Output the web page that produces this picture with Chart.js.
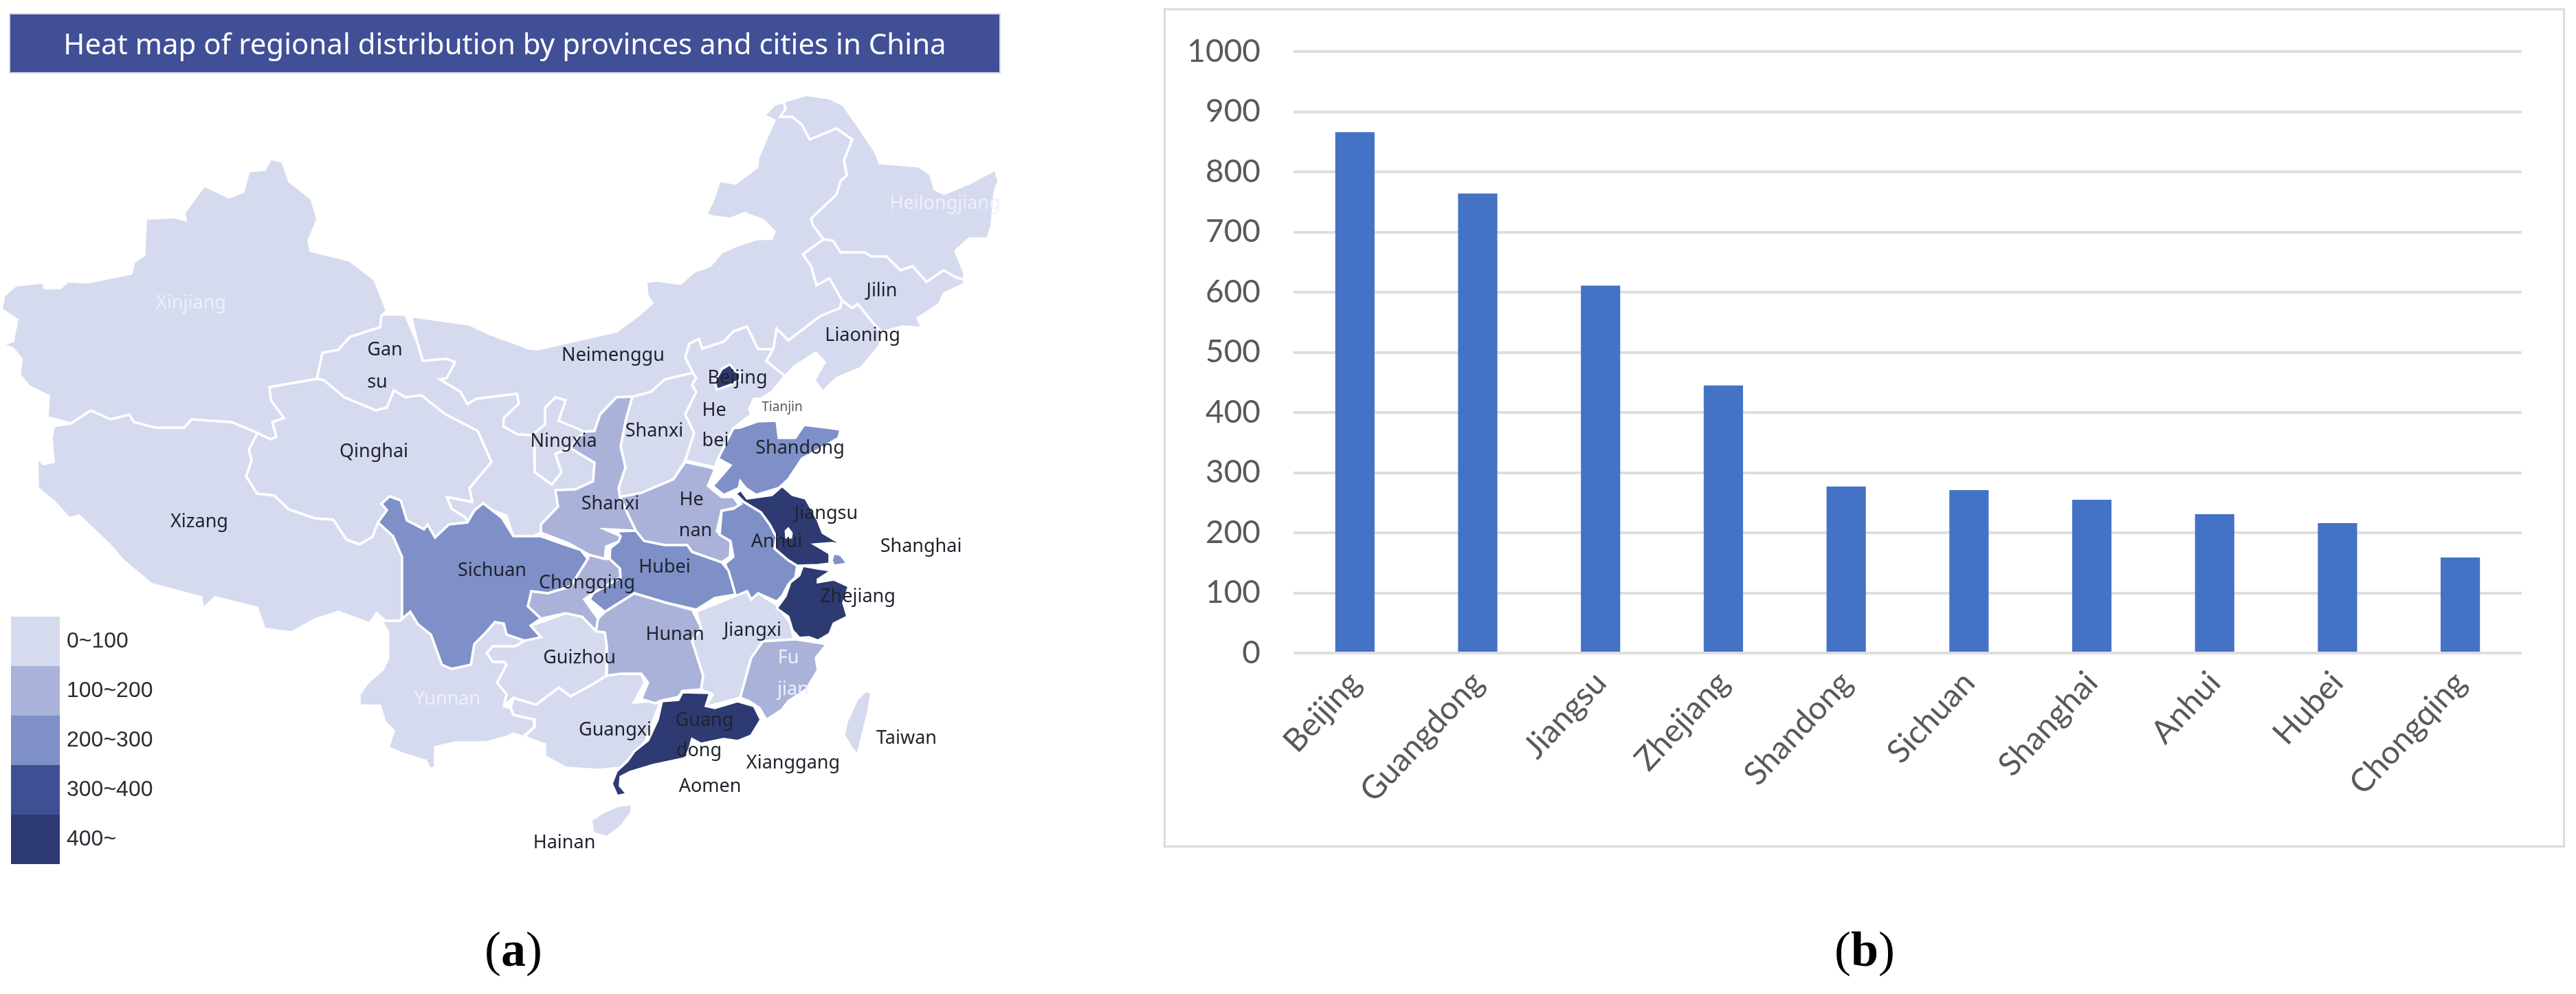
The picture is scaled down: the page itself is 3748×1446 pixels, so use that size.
<!DOCTYPE html>
<html>
<head>
<meta charset="utf-8">
<title>Regional distribution</title>
<script src="https://cdn.jsdelivr.net/npm/chart.js@4/dist/chart.umd.min.js"></script>
<style>
    html, body { margin: 0; background: #fff; }
    #page { position: relative; width: 3748px; height: 1446px; overflow: hidden; }
    #page canvas { filter: blur(0.7px); }
    #mapChart { position: absolute; left: 0; top: 0; }
    #mapTitle {
        position: absolute; left: 15px; top: 21px; width: 1439px; height: 84px;
        text-align: center; background: #404f96; color: #fff;
        box-shadow: 0 0 0 2px #d5daee;
        font: 42px/84px "Noto Sans", sans-serif; filter: blur(0.6px);
    }
    #barFrame {
        position: absolute; left: 1693px; top: 12px; width: 2033px; height: 1215px;
        border: 3px solid #dcdcdc;
    }
    .caption {
        position: absolute; top: 1340px; font: 72px "Liberation Serif", serif;
        color: #000; transform: translateX(-50%);
    }
    .caption b { font-weight: bold; }
</style>
</head>
<body>
<div id="page">
    <canvas id="mapChart" width="1480" height="1446"></canvas>
    <div id="mapTitle">Heat map of regional distribution by provinces and cities in China</div>
    <div id="barFrame"><canvas id="barChart" width="2033" height="1215"></canvas></div>
    <div class="caption" style="left:747px">(<b>a</b>)</div>
    <div class="caption" style="left:2713px">(<b>b</b>)</div>
</div>
<script>
// panel (b) values
const barCities = ['Beijing', 'Guangdong', 'Jiangsu', 'Zhejiang', 'Shandong', 'Sichuan', 'Shanghai', 'Anhui', 'Hubei', 'Chongqing'];
const barValues = [866, 764, 611, 445, 277, 271, 255, 231, 216, 159];

// panel (a) legend
const legendLabels = ['0~100', '100~200', '200~300', '300~400', '400~'];
const legendColors = ['#d5daee', '#aab2da', '#7f90c8', '#3f4f94', '#2e3a72'];

// panel (a) outlines in map units
const xinjiang = [[394,231],[411,235],[421,264],[453,289],[462,319],[449,350],[452,365],[509,379],[545,407],[563,452],[555,459],[553,476],[509,490],[492,509],[469,513],[461,551],[392,563],[394,582],[413,608],[396,614],[402,635],[394,639],[373,629],[337,614],[279,610],[268,622],[226,622],[195,614],[188,603],[161,610],[132,597],[103,616],[69,607],[71,576],[42,562],[29,545],[31,522],[19,507],[4,501],[19,496],[25,465],[2,450],[6,430],[23,415],[63,411],[65,419],[88,419],[99,409],[126,411],[191,398],[195,381],[210,371],[212,318],[253,316],[270,320],[268,310],[297,270],[333,287],[354,279],[362,249],[385,247]];
const xizang = [[103,616],[132,597],[161,610],[188,603],[195,614],[226,622],[268,622],[279,610],[337,614],[373,629],[374,631],[362,654],[366,670],[358,693],[374,718],[399,721],[420,741],[458,754],[485,756],[504,785],[523,792],[542,781],[550,760],[572,780],[585,810],[585,900],[582,903],[561,903],[548,892],[538,907],[492,890],[458,901],[424,920],[385,915],[374,884],[313,869],[295,886],[293,869],[221,850],[179,815],[159,792],[115,750],[101,754],[78,729],[55,710],[54,666],[63,675],[78,672],[75,637],[78,620]];
const qinghai = [[392,563],[461,551],[471,553],[501,578],[547,597],[563,593],[573,568],[590,578],[613,575],[647,602],[695,627],[715,672],[683,710],[687,730],[650,723],[657,740],[677,753],[680,760],[653,763],[633,782],[622,763],[617,770],[592,757],[583,728],[567,722],[555,733],[563,742],[550,760],[542,781],[523,792],[504,785],[485,756],[458,754],[420,741],[399,721],[374,718],[358,693],[366,670],[362,654],[374,631],[373,629],[394,639],[402,635],[396,614],[413,608],[394,582]];
const gansu = [[562,457],[590,458],[607,498],[615,525],[650,522],[662,527],[650,550],[640,552],[670,570],[680,588],[693,580],[752,573],[755,587],[733,608],[732,620],[753,632],[774,633],[777,650],[778,687],[803,705],[817,687],[808,660],[830,652],[865,673],[863,700],[837,712],[808,713],[812,737],[787,763],[787,775],[770,782],[747,782],[737,750],[710,740],[703,732],[690,743],[680,760],[677,753],[657,740],[650,723],[687,730],[683,710],[715,672],[695,627],[647,602],[613,575],[590,578],[573,568],[563,593],[547,597],[501,578],[471,553],[461,551],[469,513],[492,509],[509,490],[553,476],[555,459]];
const neimenggu = [[598,460],[683,472],[710,485],[770,507],[783,508],[897,482],[930,458],[949,441],[942,430],[940,410],[955,408],[990,413],[1010,395],[1033,387],[1050,367],[1073,357],[1100,348],[1123,347],[1127,337],[1110,320],[1083,310],[1063,318],[1037,315],[1027,312],[1037,293],[1047,263],[1070,267],[1102,243],[1103,230],[1117,197],[1127,175],[1112,168],[1127,152],[1140,148],[1143,158],[1135,170],[1153,170],[1167,182],[1178,203],[1217,187],[1240,203],[1228,233],[1232,255],[1223,263],[1217,283],[1180,318],[1183,328],[1198,348],[1168,370],[1180,387],[1188,415],[1207,405],[1225,437],[1222,448],[1193,460],[1147,495],[1130,478],[1125,508],[1103,508],[1087,475],[1067,482],[1053,497],[1022,507],[1017,493],[1003,500],[997,520],[1008,542],[967,552],[947,570],[920,577],[897,578],[873,603],[865,627],[850,628],[837,622],[813,612],[823,582],[808,578],[793,593],[793,617],[774,633],[753,632],[732,620],[733,608],[755,587],[752,573],[693,580],[680,588],[670,570],[640,552],[650,550],[662,527],[650,522],[615,525],[607,498]];
const ningxia = [[808,578],[823,582],[813,612],[837,622],[850,628],[830,652],[808,660],[817,687],[803,705],[778,687],[777,650],[774,633],[793,617],[793,593]];
const heilongjiang = [[1140,148],[1173,138],[1207,143],[1227,153],[1253,190],[1273,220],[1280,237],[1337,242],[1353,253],[1360,275],[1373,282],[1410,267],[1448,247],[1453,263],[1447,280],[1443,327],[1437,347],[1410,347],[1390,365],[1403,397],[1403,407],[1390,403],[1373,393],[1348,410],[1328,387],[1310,393],[1290,373],[1268,373],[1258,367],[1223,367],[1212,350],[1198,348],[1183,328],[1180,318],[1217,283],[1223,263],[1232,255],[1228,233],[1240,203],[1217,187],[1178,203],[1167,182],[1153,170],[1135,170],[1143,158]];
const jilin = [[1168,370],[1198,348],[1212,350],[1223,367],[1258,367],[1268,373],[1290,373],[1310,393],[1328,387],[1348,410],[1373,393],[1390,403],[1403,407],[1403,413],[1373,427],[1367,442],[1335,463],[1342,477],[1313,475],[1283,483],[1273,473],[1248,442],[1240,448],[1225,437],[1207,405],[1188,415],[1180,387]];
const liaoning = [[1225,437],[1240,448],[1248,442],[1273,473],[1283,483],[1280,503],[1253,535],[1217,550],[1197,570],[1185,553],[1200,527],[1187,513],[1157,532],[1142,547],[1115,525],[1125,508],[1130,478],[1147,495],[1193,460],[1222,448]];
const hebei = [[1008,542],[997,520],[1003,500],[1017,493],[1022,507],[1053,497],[1067,482],[1087,475],[1103,508],[1125,508],[1115,525],[1142,547],[1123,570],[1107,580],[1097,580],[1090,595],[1093,603],[1067,623],[1045,667],[1040,680],[997,670],[1010,630],[997,603],[1013,570],[1007,560],[1013,550]];
const tianjin = [[1072,567],[1087,570],[1097,580],[1090,595],[1073,590]];
const beijing = [[1062,530],[1070,540],[1077,543],[1077,552],[1063,560],[1043,567],[1040,555],[1050,537]];
const shanxi = [[920,577],[947,570],[967,552],[1008,542],[1013,550],[1007,560],[1013,570],[997,603],[1010,630],[997,670],[980,697],[933,717],[902,723],[900,710],[910,680],[903,650],[910,613]];
const shaanxi = [[920,577],[897,578],[873,603],[865,627],[850,628],[830,652],[865,673],[863,700],[837,712],[808,713],[812,737],[787,763],[787,775],[827,790],[857,807],[880,813],[882,795],[900,788],[903,780],[880,770],[925,772],[913,747],[902,723],[900,710],[910,680],[903,650],[910,613]];
const shandong = [[1045,667],[1067,623],[1077,622],[1102,613],[1130,612],[1133,637],[1157,637],[1170,618],[1210,623],[1223,625],[1220,637],[1193,653],[1167,667],[1147,697],[1133,710],[1100,720],[1085,710],[1077,700],[1075,710],[1053,720],[1037,707],[1063,677]];
const henan = [[997,672],[1033,680],[1040,683],[1030,707],[1050,723],[1067,723],[1077,737],[1050,743],[1043,773],[1063,788],[1062,810],[1050,818],[1007,803],[1000,793],[967,793],[937,787],[925,772],[913,747],[902,723],[933,717],[980,697]];
const hubei = [[897,773],[925,772],[937,787],[967,793],[1000,793],[1007,803],[1050,818],[1060,830],[1070,865],[1040,870],[1013,887],[970,877],[923,863],[880,890],[858,872],[863,863],[903,840],[902,827],[887,813],[888,797],[900,788],[903,780]];
const chongqing = [[857,807],[880,813],[887,813],[902,827],[903,840],[863,863],[850,872],[870,900],[867,918],[847,897],[823,892],[787,900],[768,882],[773,860],[797,863],[830,853],[855,813]];
const sichuan = [[567,722],[583,728],[592,757],[617,770],[622,763],[633,782],[653,763],[680,760],[690,743],[703,732],[730,753],[747,780],[787,780],[815,790],[845,800],[855,813],[830,853],[797,863],[773,860],[768,882],[787,900],[772,910],[787,927],[763,932],[737,923],[733,907],[720,905],[707,920],[690,937],[685,967],[657,973],[643,967],[627,923],[608,908],[597,890],[585,900],[585,810],[572,780],[550,760],[563,742],[555,733]];
const yunnan = [[556,905],[561,903],[582,903],[585,900],[597,890],[608,908],[627,923],[643,967],[657,973],[685,967],[690,937],[707,920],[720,905],[733,907],[737,923],[763,932],[750,940],[717,940],[708,950],[717,963],[733,963],[737,967],[723,993],[737,1010],[733,1027],[743,1030],[747,1040],[778,1047],[777,1058],[760,1072],[747,1067],[737,1072],[707,1080],[663,1080],[633,1087],[633,1117],[625,1118],[620,1107],[587,1097],[565,1087],[573,1063],[560,1050],[553,1027],[523,1026],[523,1010],[535,993],[557,974],[565,957],[565,920]];
const guizhou = [[772,910],[793,903],[823,892],[847,897],[867,918],[880,920],[883,940],[882,983],[863,995],[830,1013],[813,1000],[780,1025],[747,1015],[733,1027],[737,1010],[723,993],[737,967],[733,963],[717,963],[708,950],[717,940],[750,940],[763,932],[787,927]];
const guangxi = [[743,1030],[747,1015],[780,1025],[813,1000],[830,1013],[863,995],[882,983],[903,980],[933,980],[938,993],[922,1022],[947,1020],[960,1023],[943,1067],[940,1077],[920,1100],[903,1117],[870,1120],[823,1117],[793,1100],[793,1083],[763,1072],[777,1058],[778,1047],[747,1040]];
const hunan = [[880,890],[923,863],[970,877],[1007,887],[1020,913],[1007,933],[1023,983],[1020,1003],[993,1005],[987,1014],[963,1019],[953,1023],[943,1020],[933,1017],[943,993],[933,980],[903,980],[882,983],[883,940],[880,920],[867,918],[870,900]];
const jiangxi = [[1013,890],[1070,867],[1087,860],[1093,872],[1103,863],[1130,880],[1150,907],[1155,930],[1110,933],[1093,957],[1077,1015],[1047,1023],[1027,1028],[1037,1010],[1020,1003],[1023,983],[1007,933],[1020,913]];
const fujian = [[1157,930],[1177,933],[1203,937],[1187,957],[1190,975],[1173,1003],[1147,1020],[1137,1033],[1115,1047],[1105,1030],[1090,1020],[1077,1015],[1093,957],[1110,933]];
const guangdong = [[963,1020],[987,1018],[993,1007],[1033,1008],[1027,1027],[1040,1030],[1073,1020],[1097,1027],[1107,1047],[1093,1070],[1073,1078],[1053,1075],[1020,1082],[1007,1075],[1003,1090],[997,1103],[950,1113],[917,1123],[903,1130],[902,1143],[912,1155],[898,1158],[890,1140],[897,1122],[913,1107],[923,1093],[943,1077],[957,1047]];
const hainan = [[920,1170],[900,1172],[877,1182],[860,1193],[863,1212],[883,1218],[903,1203],[918,1183]];
const taiwan = [[1260,1005],[1268,1008],[1263,1037],[1253,1077],[1248,1098],[1240,1090],[1228,1070],[1232,1050],[1247,1017]];
const anhui = [[1068,725],[1082,730],[1107,745],[1120,763],[1130,782],[1127,798],[1147,815],[1160,823],[1157,840],[1147,850],[1138,867],[1130,875],[1103,863],[1093,872],[1087,860],[1070,867],[1065,847],[1055,820],[1067,810],[1063,787],[1047,778],[1050,743],[1067,740],[1078,733]];
const jiangsu = [[1070,718],[1078,713],[1087,725],[1123,720],[1138,707],[1153,720],[1172,725],[1190,757],[1197,775],[1227,793],[1210,790],[1185,792],[1207,805],[1207,820],[1190,822],[1160,823],[1147,815],[1127,798],[1130,782],[1120,763],[1107,745],[1082,730]];
const shanghai = [[1213,805],[1223,807],[1233,820],[1213,823],[1210,815]];
const zhejiang = [[1168,823],[1190,827],[1210,830],[1190,843],[1190,847],[1213,843],[1235,853],[1227,877],[1233,897],[1213,907],[1207,922],[1190,932],[1177,927],[1163,928],[1153,917],[1147,897],[1130,885],[1143,867],[1150,847],[1163,837]];
const hongzeLake = [[1142,772],[1147,767],[1153,775],[1152,783],[1143,783]];

// which legend band each outline falls in, top of the stack first
const mapRegions = [
    [beijing, 4], [guangdong, 4], [jiangsu, 4], [zhejiang, 4],
    [sichuan, 2], [shandong, 2], [hubei, 2], [anhui, 2], [shanghai, 2],
    [shaanxi, 1], [henan, 1], [chongqing, 1], [hunan, 1], [fujian, 1],
    [xinjiang, 0], [xizang, 0], [qinghai, 0], [gansu, 0], [neimenggu, 0], [ningxia, 0],
    [heilongjiang, 0], [jilin, 0], [liaoning, 0], [hebei, 0], [tianjin, 0], [shanxi, 0],
    [yunnan, 0], [guizhou, 0], [guangxi, 0], [jiangxi, 0], [hainan, 0], [taiwan, 0],
];

// region labels: text, x, y, in the same map units
const darkLabels = [
    ['Gan', 560, 509], ['su', 549, 556], ['Qinghai', 544, 657], ['Xizang', 290, 759],
    ['Neimenggu', 892, 517], ['Ningxia', 820, 642], ['Shanxi', 952, 627], ['Shanxi', 888, 733],
    ['He', 1039, 597], ['bei', 1041, 641], ['Beijing', 1073, 550], ['Shandong', 1164, 652],
    ['He', 1006, 727], ['nan', 1012, 772], ['Anhui', 1130, 788], ['Jiangsu', 1202, 747],
    ['Shanghai', 1340, 795], ['Zhejiang', 1248, 868], ['Sichuan', 716, 830], ['Chongqing', 854, 848],
    ['Hubei', 967, 825], ['Hunan', 982, 923], ['Jiangxi', 1095, 917], ['Guizhou', 843, 957],
    ['Guangxi', 895, 1062], ['Guang', 1025, 1048], ['dong', 1017, 1092], ['Xianggang', 1154, 1110],
    ['Aomen', 1033, 1144], ['Hainan', 821, 1226], ['Taiwan', 1319, 1074], ['Jilin', 1283, 423],
    ['Liaoning', 1255, 488],
];
const lightLabels = [
    ['Xinjiang', 278, 441], ['Heilongjiang', 1375, 296], ['Yunnan', 651, 1017], ['Fu', 1147, 957], ['jian', 1154, 1003],
];
const smallLabels = [['Tianjin', 1138, 593]];

const toPoints = (outline) => outline.concat([outline[0]]).map(([x, y]) => ({ x, y }));

// Chart.js paints the first dataset last, so the lake goes in front of everything
const mapDatasets = [{
    data: toPoints(hongzeLake),
    backgroundColor: '#ffffff',
    borderColor: '#ffffff',
    borderWidth: 1,
    fill: 'shape',
    pointRadius: 0,
}].concat(mapRegions.map(([outline, band]) => ({
    data: toPoints(outline),
    backgroundColor: legendColors[band],
    borderColor: '#ffffff',
    borderWidth: 3.5,
    fill: 'shape',
    pointRadius: 0,
    tension: 0,
})));

const mapAnnotations = {
    id: 'mapAnnotations',
    afterDatasetsDraw: (chart) => {
        const { ctx, scales } = chart;
        const { x, y } = scales;

        ctx.save();
        ctx.textAlign = 'center';
        ctx.textBaseline = 'middle';
        const drawLabels = (labels, font, color) => {
            ctx.font = font;
            ctx.fillStyle = color;
            labels.forEach(([text, lx, ly]) => {
                ctx.fillText(text, x.getPixelForValue(lx), y.getPixelForValue(ly));
            });
        };
        drawLabels(darkLabels, '27px "Noto Sans"', '#20232e');
        drawLabels(lightLabels, '27px "Noto Sans"', '#eef0f8');
        drawLabels(smallLabels, '19px "Noto Sans"', '#55585f');

        // Legend swatches down the left edge
        ctx.textAlign = 'left';
        ctx.font = '32px "Liberation Sans"';
        legendLabels.forEach((label, i) => {
            const top = y.getPixelForValue(897 + i * 72);
            ctx.fillStyle = legendColors[i];
            ctx.fillRect(x.getPixelForValue(16), top, 71, 72);
            ctx.fillStyle = '#2b2b33';
            ctx.fillText(label, x.getPixelForValue(97), top + 36);
        });
        ctx.restore();
    },
};

new Chart(document.getElementById('mapChart'), {
    type: 'line',
    data: { datasets: mapDatasets },
    options: {
        responsive: false,
        animation: false,
        devicePixelRatio: 1,
        layout: { padding: 0 },
        plugins: { legend: { display: false }, tooltip: { enabled: false } },
        scales: {
            x: { type: 'linear', display: false, min: 0, max: 1480 },
            y: { type: 'linear', display: false, min: 0, max: 1446, reverse: true },
        },
    },
    plugins: [mapAnnotations],
});

new Chart(document.getElementById('barChart'), {
    type: 'bar',
    data: {
        labels: barCities,
        datasets: [{
            data: barValues,
            backgroundColor: '#4472c4',
            barPercentage: 0.32,
            categoryPercentage: 1,
        }],
    },
    options: {
        responsive: false,
        animation: false,
        devicePixelRatio: 1,
        layout: { padding: { left: 0, top: 60, right: 60, bottom: 0 } },
        plugins: { legend: { display: false }, tooltip: { enabled: false } },
        scales: {
            x: {
                afterFit: (scale) => { scale.height = 280; },
                border: { display: false },
                grid: { display: false },
                ticks: {
                    color: '#595959',
                    font: { family: 'Lato', size: 47 },
                    minRotation: 47,
                    maxRotation: 47,
                    padding: 8,
                },
            },
            y: {
                min: 0,
                max: 1000,
                // the tick padding would otherwise push the plot area down
                afterFit: (scale) => {
                    scale.width = 186;
                    scale.paddingTop = 0;
                    scale.paddingBottom = 0;
                },
                border: { display: false },
                grid: { color: '#dedede', lineWidth: 4, drawTicks: false },
                ticks: {
                    stepSize: 100,
                    color: '#595959',
                    font: { family: 'Lato', size: 46 },
                    padding: 48,
                    callback: (value) => `${value}`,
                },
            },
        },
    },
});
</script>
</body>
</html>
